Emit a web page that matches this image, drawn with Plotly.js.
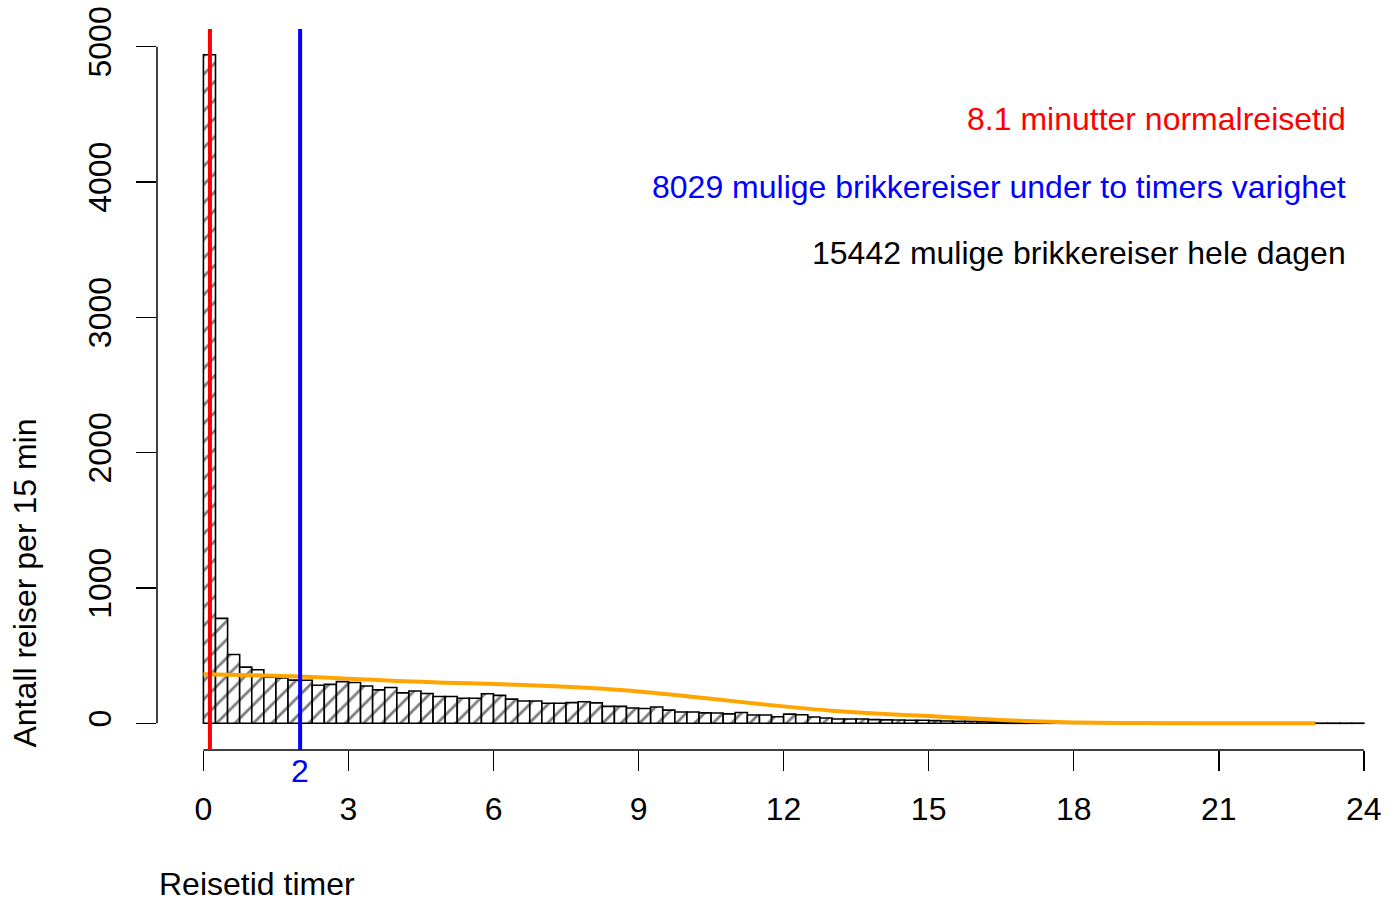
<!DOCTYPE html>
<html>
<head>
<meta charset="utf-8">
<script src="https://cdn.plot.ly/plotly-3.0.1.min.js"></script>
<style>html,body{margin:0;padding:0;background:#fff;}#chart{width:1394px;height:900px;}</style>
</head>
<body>
<div id="chart"></div>
<script>
// Bin width in hours (15 minutes)
const binWidth = 0.25;
// Counts per 15-min bin, 0 to 24 hours (96 bins)
const counts = [
  4940, 775, 508, 415, 396, 340, 336, 319,
  318, 281, 288, 308, 301, 276, 247, 264,
  225, 239, 220, 198, 198, 185, 185, 218,
  206, 179, 165, 165, 148, 148, 153, 159,
  151, 125, 125, 113, 109, 120, 97, 84,
  84, 77, 76, 70, 80, 61, 61, 48,
  68, 63, 47, 39, 32, 32, 32, 27,
  25, 24, 22, 22, 20, 17, 15, 15,
  13, 12, 11, 10, 9, 9, 8, 8,
  7, 6, 6, 5, 5, 5, 4, 4,
  4, 4, 3, 3, 3, 3, 3, 2,
  2, 2, 2, 1, 1, 1, 1, 1
];
// Smoothed curve (orange), hours and values
const smoothHours = [0,1,2,3,4,5,6,7,8,9,10,11,12,13,14,15,16,17,18,19,20,21,22,23];
const smoothValues = [362,355,346,330,313,300,291,278,260,235,200,162,125,93,70,54,33,17,6,2,1,0.5,0,0];
// Reference values
const normalMinutes = 8.1;
const limitHours = 2;
const tripsUnderLimit = 8029;
const tripsAllDay = 15442;
// Axis ticks
const xTicks = [0,3,6,9,12,15,18,21,24];
const yTicks = [0,1000,2000,3000,4000,5000];

const binCenters = counts.map((c, i) => i * binWidth + binWidth / 2);
const font = "Liberation Sans, Arial, Helvetica, sans-serif";
const fs = 32;

const traces = [
  {
    type: 'bar',
    x: binCenters,
    y: counts,
    width: binWidth,
    marker: {
      color: 'white',
      line: {color: 'black', width: 1.6},
      pattern: {shape: '/', fgcolor: 'black', bgcolor: 'white', size: 13, solidity: 0.22, fillmode: 'overlay'}
    },
    hoverinfo: 'skip'
  },
  {
    type: 'scatter',
    mode: 'lines',
    x: smoothHours,
    y: smoothValues,
    line: {color: '#FFA500', width: 4, shape: 'spline', smoothing: 0.8},
    hoverinfo: 'skip'
  }
];

const layout = {
  width: 1394,
  height: 900,
  margin: {l: 157, r: 0, t: 29, b: 150},
  paper_bgcolor: 'white',
  plot_bgcolor: 'white',
  showlegend: false,
  bargap: 0,
  font: {family: font, size: fs, color: 'black'},
  xaxis: {
    range: [-0.96, 24.624],
    tickvals: xTicks,
    ticktext: xTicks.map(String),
    ticks: 'outside',
    ticklen: 20,
    tickwidth: 1.5,
    tickcolor: 'black',
    showgrid: false,
    zeroline: false,
    showline: false,
    ticklabelstandoff: 11,
    tickfont: {family: font, size: fs, color: 'black'}
  },
  yaxis: {
    range: [-197.3, 5130.6],
    tickvals: yTicks,
    ticktext: yTicks.map(String),
    ticks: 'outside',
    ticklen: 20,
    tickwidth: 1.5,
    tickcolor: 'black',
    tickangle: -90,
    showgrid: false,
    zeroline: false,
    showline: false,
    ticklabelstandoff: 12,
    tickfont: {family: font, size: fs, color: 'black'}
  },
  shapes: [
    {type: 'line', xref: 'x', yref: 'paper', x0: xTicks[0], x1: xTicks[xTicks.length-1], y0: 0, y1: 0, line: {color: 'black', width: 1.5}},
    {type: 'line', xref: 'paper', yref: 'y', x0: 0, x1: 0, y0: yTicks[0], y1: yTicks[yTicks.length-1], line: {color: 'black', width: 1.5}},
    {type: 'line', xref: 'x', yref: 'paper', x0: normalMinutes/60, x1: normalMinutes/60, y0: 0, y1: 1, line: {color: '#FF0000', width: 4}},
    {type: 'line', xref: 'x', yref: 'paper', x0: limitHours, x1: limitHours, y0: 0, y1: 1, line: {color: '#0000FF', width: 4}}
  ],
  annotations: [
    {text: normalMinutes + ' minutter normalreisetid', xref: 'paper', yref: 'paper', x: 0.963, y: 0.8752, xanchor: 'right', yanchor: 'middle', showarrow: false, font: {family: font, size: fs, color: '#FF0000'}},
    {text: tripsUnderLimit + ' mulige brikkereiser under to timers varighet', xref: 'paper', yref: 'paper', x: 0.963, y: 0.7809, xanchor: 'right', yanchor: 'middle', showarrow: false, font: {family: font, size: fs, color: '#0000FF'}},
    {text: tripsAllDay + ' mulige brikkereiser hele dagen', xref: 'paper', yref: 'paper', x: 0.963, y: 0.6893, xanchor: 'right', yanchor: 'middle', showarrow: false, font: {family: font, size: fs, color: 'black'}},
    {text: String(limitHours), xref: 'x', yref: 'paper', x: limitHours, y: -0.0291, xanchor: 'center', yanchor: 'middle', showarrow: false, font: {family: font, size: fs, color: '#0000FF'}},
    {text: 'Reisetid timer', xref: 'paper', yref: 'paper', x: 0.001, y: -0.1865, xanchor: 'left', yanchor: 'middle', showarrow: false, borderpad: 0, font: {family: font, size: fs, color: 'black'}},
    {text: 'Antall reiser per 15 min', xref: 'paper', yref: 'paper', x: -0.1075, y: 0, xanchor: 'center', yanchor: 'bottom', textangle: -90, showarrow: false, font: {family: font, size: fs, color: 'black'}}
  ]
};

Plotly.newPlot('chart', traces, layout, {displayModeBar: false, staticPlot: true});
</script>
</body>
</html>
